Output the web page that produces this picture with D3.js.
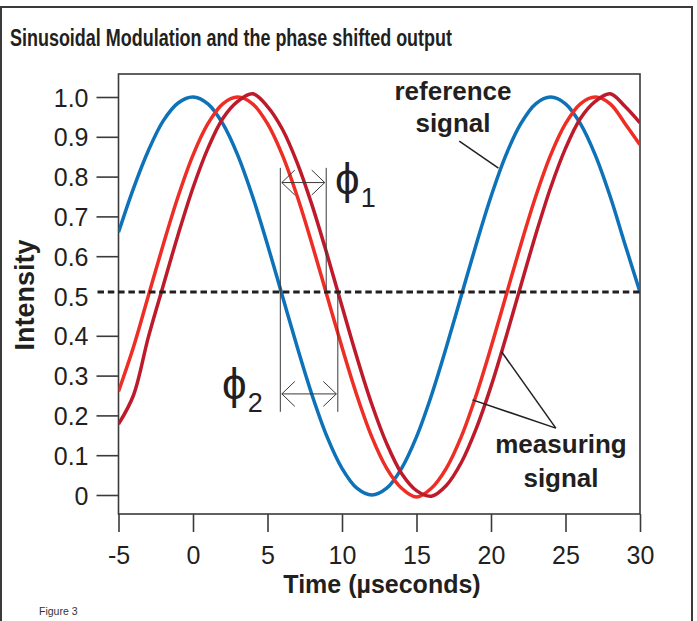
<!DOCTYPE html>
<html>
<head>
<meta charset="utf-8">
<script src="https://cdn.jsdelivr.net/npm/d3@7"></script>
<style>
  body { margin: 0; background: #fff; }
  text { font-family: "Liberation Sans", Arial, sans-serif; fill: #231f20; }
</style>
</head>
<body>
<div id="chart"></div>
<script>
// sample times (µs) and intensities
const times = [-5, -4, -3, -2, -1, 0, 1, 2, 3, 4, 5, 6, 7, 8, 9, 10, 11, 12, 13, 14, 15,
  16, 17, 18, 19, 20, 21, 22, 23, 24, 25, 26, 27, 28, 29, 30];

const referenceSignal = [0.66, 0.77, 0.865, 0.94, 0.985, 1.0, 0.983, 0.933, 0.854, 0.75, 0.629,
  0.5, 0.371, 0.25, 0.146, 0.067, 0.017, 0.0, 0.017, 0.067, 0.146, 0.25, 0.371, 0.5, 0.629,
  0.75, 0.854, 0.933, 0.983, 1.0, 0.983, 0.933, 0.854, 0.75, 0.629, 0.51];

const measuringSignal1 = [0.26, 0.371, 0.5, 0.629, 0.75, 0.854, 0.933, 0.983, 1.0, 0.983, 0.933,
  0.854, 0.75, 0.629, 0.5, 0.371, 0.25, 0.146, 0.067, 0.017, -0.005, 0.017, 0.067, 0.146, 0.25,
  0.371, 0.5, 0.629, 0.75, 0.854, 0.933, 0.983, 1.0, 0.983, 0.933, 0.88];

const measuringSignal2 = [0.178, 0.25, 0.396, 0.526, 0.654, 0.772, 0.871, 0.946, 0.989, 1.008, 0.976,
  0.919, 0.834, 0.727, 0.604, 0.474, 0.346, 0.228, 0.129, 0.054, 0.011, -0.003, 0.024, 0.081, 0.166,
  0.273, 0.396, 0.526, 0.654, 0.772, 0.871, 0.946, 0.989, 1.008, 0.976, 0.935];

const xTicks = [-5, 0, 5, 10, 15, 20, 25, 30];
const yTicks = [0, 0.1, 0.2, 0.3, 0.4, 0.5, 0.6, 0.7, 0.8, 0.9, 1.0];
const threshold = 0.51;

// phase markers: crossing times of the threshold and their vertical extent
const phaseTimes = { ref: 5.86, meas1: 8.94, meas2: 9.72 };
const phaseTop = 0.822, phaseBottom = 0.209;
const phi1Level = 0.785, phi2Level = 0.254;

// leader lines [t, value] pairs
const refLeader = [[17.87, 0.889], [20.5, 0.821]];
const measLeaders = [
  [[24.35, 0.168], [20.71, 0.360]],
  [[24.35, 0.168], [18.76, 0.239]]
];

const width = 697, height = 621;
const box = { left: 118.5, right: 640, top: 74, bottom: 514 };

const svg = d3.select("#chart").append("svg")
    .attr("width", width)
    .attr("height", height);

// outer frame
svg.append("rect")
    .attr("x", 1).attr("y", 7)
    .attr("width", 691).attr("height", 630)
    .attr("fill", "none")
    .attr("stroke", "#3a3a3a")
    .attr("stroke-width", 2);

svg.append("text")
    .attr("x", 10).attr("y", 45.5)
    .attr("font-size", 23)
    .attr("font-weight", "bold")
    .attr("textLength", 442)
    .attr("lengthAdjust", "spacingAndGlyphs")
    .text("Sinusoidal Modulation and the phase shifted output");

svg.append("text")
    .attr("x", 39).attr("y", 615)
    .attr("font-size", 10.5)
    .style("fill", "#333")
    .text("Figure 3");

const x = d3.scaleLinear().domain([-5, 30]).range([box.left, box.right]);
const y = d3.scaleLinear().domain([0, 1]).range([495, 97]);

// plot box
svg.append("rect")
    .attr("x", box.left).attr("y", box.top)
    .attr("width", box.right - box.left)
    .attr("height", box.bottom - box.top)
    .attr("fill", "none")
    .attr("stroke", "#3a3a3a")
    .attr("stroke-width", 1.6);

// axes
const yAxis = d3.axisLeft(y)
    .tickValues(yTicks)
    .tickSize(22)
    .tickSizeOuter(0)
    .tickPadding(8)
    .tickFormat(d => d === 0 ? "0" : d3.format(".1f")(d));

const yAxisGroup = svg.append("g")
    .attr("transform", "translate(" + box.left + ",0)")
    .call(yAxis);

const xAxis = d3.axisBottom(x)
    .tickValues(xTicks)
    .tickSize(18)
    .tickSizeOuter(0)
    .tickPadding(14)
    .tickFormat(d => String(d));

const xAxisGroup = svg.append("g")
    .attr("transform", "translate(0," + box.bottom + ")")
    .call(xAxis);

[yAxisGroup, xAxisGroup].forEach(g => {
  g.select(".domain").remove();
  g.selectAll(".tick line").attr("stroke", "#3a3a3a").attr("stroke-width", 1.6);
  g.selectAll(".tick text")
      .attr("font-size", 25)
      .style("fill", "#231f20");
});
yAxisGroup.selectAll(".tick text").attr("dy", "0.36em");
// the 0.5 tick mark sits under the dashed threshold line
yAxisGroup.selectAll(".tick").filter(d => d === 0.5).select("line").remove();

// axis titles
svg.append("text")
    .attr("transform", "translate(34,295) rotate(-90)")
    .attr("text-anchor", "middle")
    .attr("font-size", 27)
    .attr("font-weight", "bold")
    .text("Intensity");

svg.append("text")
    .attr("x", 382).attr("y", 593)
    .attr("text-anchor", "middle")
    .attr("font-size", 25)
    .attr("font-weight", "bold")
    .text("Time (µseconds)");

// clip
svg.append("clipPath").attr("id", "plot-clip")
  .append("rect")
    .attr("x", box.left).attr("y", box.top)
    .attr("width", box.right - box.left)
    .attr("height", box.bottom - box.top);

const plot = svg.append("g").attr("clip-path", "url(#plot-clip)");

// threshold line
svg.append("line")
    .attr("x1", box.left - 21).attr("x2", x(30))
    .attr("y1", y(threshold)).attr("y2", y(threshold))
    .attr("stroke", "#231f20")
    .attr("stroke-width", 3)
    .attr("stroke-dasharray", "6.5,3.8");

const line = d3.line()
    .x(d => x(d[0]))
    .y(d => y(d[1]))
    .curve(d3.curveCatmullRom);

const series = [
  { values: referenceSignal, color: "#0e72b9" },
  { values: measuringSignal1, color: "#ee2d24" },
  { values: measuringSignal2, color: "#bd1b2c" }
];

plot.selectAll(".signal")
    .data(series)
  .enter().append("path")
    .attr("class", "signal")
    .attr("d", s => line(times.map((t, i) => [t, s.values[i]])))
    .attr("fill", "none")
    .attr("stroke", s => s.color)
    .attr("stroke-width", 3.5)
    .attr("stroke-linejoin", "round");

// phase marker lines
const thin = { stroke: "#3a3a3a", width: 1 };
const markers = [
  { t: phaseTimes.ref, v0: phaseTop, v1: phaseBottom },
  { t: phaseTimes.meas1, v0: phaseTop, v1: threshold },
  { t: phaseTimes.meas2, v0: threshold, v1: phaseBottom }
];
svg.selectAll(".marker")
    .data(markers)
  .enter().append("line")
    .attr("class", "marker")
    .attr("x1", d => x(d.t)).attr("x2", d => x(d.t))
    .attr("y1", d => y(d.v0)).attr("y2", d => y(d.v1))
    .attr("stroke", thin.stroke)
    .attr("stroke-width", thin.width);

function doubleArrow(t0, t1, v) {
  const x0 = x(t0) + 1.5, x1 = x(t1) - 1.5, yy = y(v);
  const g = svg.append("g")
      .attr("fill", "none")
      .attr("stroke", thin.stroke)
      .attr("stroke-width", thin.width);
  g.append("line").attr("x1", x0).attr("x2", x1).attr("y1", yy).attr("y2", yy);
  g.append("path").attr("d", `M${x0 + 13},${yy - 12.5}L${x0},${yy}L${x0 + 13},${yy + 12.5}`);
  g.append("path").attr("d", `M${x1 - 13},${yy - 12.5}L${x1},${yy}L${x1 - 13},${yy + 12.5}`);
}
doubleArrow(phaseTimes.ref, phaseTimes.meas1, phi1Level);
doubleArrow(phaseTimes.ref, phaseTimes.meas2, phi2Level);

// phi labels
function phiLabel(px, py, sub) {
  const t = svg.append("text").attr("x", px).attr("y", py);
  t.append("tspan").attr("font-size", 44)
      .style("font-family", "\"Liberation Sans\", \"DejaVu Sans\", sans-serif")
      .text("\u03D5");
  t.append("tspan").attr("font-size", 27).attr("dy", 13).attr("dx", 1).text(sub);
}
phiLabel(335, 194, "1");
phiLabel(222, 399, "2");

// annotations
const leader = d3.line().x(d => x(d[0])).y(d => y(d[1]));
svg.append("path")
    .attr("d", leader(refLeader))
    .attr("fill", "none")
    .attr("stroke", "#231f20")
    .attr("stroke-width", 1.5);
svg.selectAll(".meas-leader")
    .data(measLeaders)
  .enter().append("path")
    .attr("class", "meas-leader")
    .attr("d", leader)
    .attr("fill", "none")
    .attr("stroke", "#231f20")
    .attr("stroke-width", 1.5);

const notes = [
  { text: "reference", x: 453, y: 100 },
  { text: "signal", x: 453, y: 132 },
  { text: "measuring", x: 561, y: 453 },
  { text: "signal", x: 561, y: 487 }
];
svg.selectAll(".note")
    .data(notes)
  .enter().append("text")
    .attr("class", "note")
    .attr("x", d => d.x).attr("y", d => d.y)
    .attr("text-anchor", "middle")
    .attr("font-size", 26)
    .attr("font-weight", "bold")
    .text(d => d.text);
</script>
</body>
</html>
